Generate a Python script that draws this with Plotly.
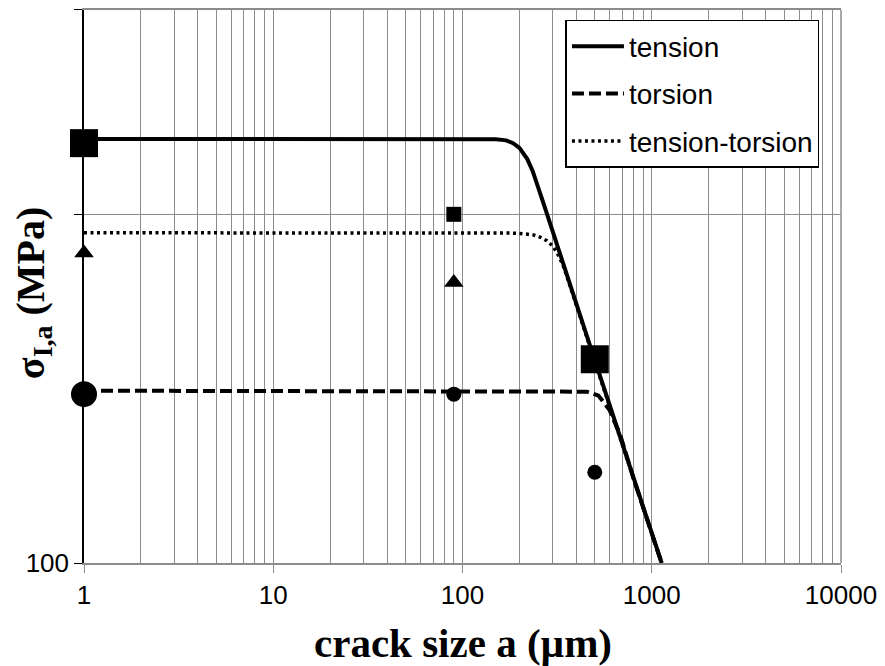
"""Crack size vs. stress amplitude chart (log-log) for tension / torsion loading."""

import plotly.graph_objects as go

# model curves (crack size a in um, sigma_I,a in MPa)
tension_a = [1, 100, 150, 170, 185, 200, 210, 220, 235, 250, 265, 280, 300, 400, 500, 600, 800, 1000, 1128]
tension_s = [1645, 1645, 1642, 1630, 1600, 1550, 1500, 1440, 1330, 1215, 1095, 1000, 890, 553, 382, 283, 176, 122, 100]

torsion_a = [1, 400, 454, 523, 567, 600, 628, 680, 800, 1000, 1128]
torsion_s = [312, 312, 310, 302, 286, 274, 258, 234, 175, 121, 100]

tt_a = [1, 180, 217, 238, 260, 279, 299, 316, 340, 370, 400, 500, 600, 800, 1000, 1128]
tt_s = [885, 884, 878, 872, 858, 840, 812, 776, 715, 625, 548, 378, 281, 175, 121, 100]

# experimental points
square_a = [1, 90, 500]
square_s = [1600, 1000, 384]
circle_a = [1, 90, 500]
circle_s = [305, 305, 182]
triangle_a = [1, 90]
triangle_s = [775, 637]

x_ticks = [1, 10, 100, 1000, 10000]
x_labels = ["1", "10", "100", "1000", "10000"]
y_ticks = [100]
y_labels = ["100"]
y_minor = [1000, 3855]  # unlabelled grid line + tick at the top of the axis

GRID = "#8c8c8c"
SANS = "Liberation Sans"
SERIF = "Liberation Serif"


def build_chart():
    fig = go.Figure()

    lines = [
        ("tension", tension_a, tension_s, dict(color="black", width=4), 3),
        ("torsion", torsion_a, torsion_s, dict(color="black", width=4, dash="12px,5px"), 2),
        ("tension-torsion", tt_a, tt_s, dict(color="black", width=3.5, dash="3px,3.5px"), 1),
    ]
    # draw the solid line last so it sits on top, keep legend order via legendrank
    for rank, (name, a, s, style, _) in sorted(enumerate(lines), key=lambda t: t[1][4]):
        fig.add_trace(
            go.Scatter(
                x=a,
                y=s,
                mode="lines",
                name=name,
                line=style,
                legendrank=rank + 1,
                legendgroup=name,
            )
        )

    markers = [
        (square_a, square_s, "square", [28, 15, 28]),
        (circle_a, circle_s, "circle", [26, 15, 15]),
        (triangle_a, triangle_s, "triangle-up", [17, 17]),
    ]
    for a, s, symbol, sizes in markers:
        fig.add_trace(
            go.Scatter(
                x=a,
                y=s,
                mode="markers",
                marker=dict(symbol=symbol, size=sizes, color="black", opacity=1, line=dict(width=0)),
                showlegend=False,
                cliponaxis=False,
            )
        )

    minor_x = [m * 10 ** k for k in range(4) for m in range(2, 10)]

    fig.update_layout(
        width=885,
        height=666,
        margin=dict(l=84, r=42, t=8, b=103),
        paper_bgcolor="white",
        plot_bgcolor="white",
        showlegend=True,
        legend=dict(
            x=0.636,
            y=0.982,
            xanchor="left",
            yanchor="top",
            bgcolor="white",
            bordercolor="black",
            borderwidth=1.5,
            font=dict(family=SANS, size=28, color="black"),
            traceorder="grouped",
            tracegroupgap=8,
            itemwidth=52,
        ),
        xaxis=dict(
            type="log",
            range=[0, 4],
            tickvals=x_ticks,
            ticktext=x_labels,
            tickfont=dict(family=SANS, size=26, color="black"),
            ticks="outside",
            ticklen=8,
            tickcolor=GRID,
            showline=True,
            linecolor=GRID,
            linewidth=1.5,
            mirror=True,
            showgrid=True,
            gridcolor=GRID,
            gridwidth=1,
            minor=dict(tickvals=minor_x, showgrid=True, gridcolor=GRID, gridwidth=1, ticks=""),
            zeroline=False,
        ),
        yaxis=dict(
            type="log",
            range=[2, 3.586],
            tickvals=y_ticks,
            ticktext=y_labels,
            tickfont=dict(family=SANS, size=26, color="black"),
            ticks="outside",
            ticklen=8,
            tickcolor="black",
            showline=True,
            linecolor="black",
            linewidth=1.5,
            showgrid=True,
            gridcolor=GRID,
            gridwidth=1,
            minor=dict(tickvals=y_minor, showgrid=True, gridcolor=GRID, gridwidth=1,
                       ticks="outside", ticklen=8, tickcolor="black"),
            zeroline=False,
        ),
        shapes=[
            dict(type="line", xref="paper", yref="paper", x0=1, x1=1, y0=0, y1=1,
                 line=dict(color=GRID, width=1.5), layer="above"),
        ],
        annotations=[
            dict(
                text="<b>crack size a (µm)</b>",
                xref="paper", yref="paper", x=0.5, y=0,
                xanchor="center", yanchor="middle", yshift=-80,
                showarrow=False,
                font=dict(family=SERIF, size=41, color="black"),
            ),
            dict(
                text="<b>σ<sub>I,a</sub> (MPa)</b>",
                xref="paper", yref="paper", x=0, y=0.488,
                xanchor="center", yanchor="middle", xshift=-51,
                textangle=-90,
                showarrow=False,
                font=dict(family=SERIF, size=40, color="black"),
            ),
        ],
    )
    return fig


fig = build_chart()
# the page body has a default 8px margin; drop it so the figure fills the window
fig.write_html(
    "out.html",
    config={"displayModeBar": False},
    post_script="document.body.style.margin='0';",
)
